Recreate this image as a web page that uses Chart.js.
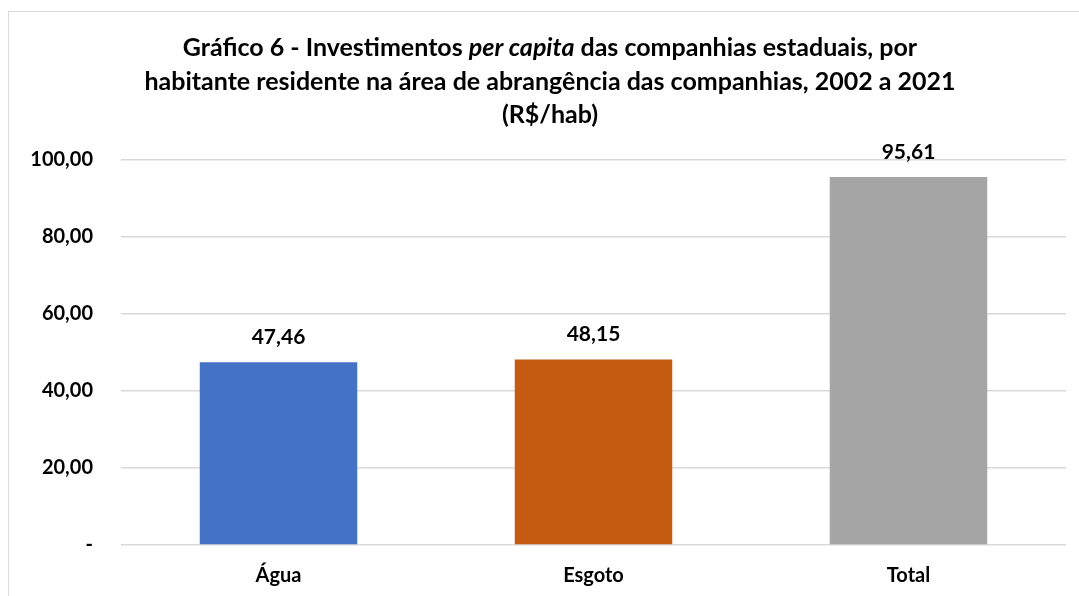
<!DOCTYPE html>
<html>
<head>
<meta charset="utf-8">
<script src="https://cdn.jsdelivr.net/npm/chart.js@4/dist/chart.umd.min.js"></script>
<style>
  html, body { margin: 0; padding: 0; background: #fff; }
  #wrap { width: 1079px; height: 596px; position: relative; }
</style>
</head>
<body>
<div id="wrap"><canvas id="barChart"></canvas></div>
<script>
// dados do gráfico
var categorias = ['Água', 'Esgoto', 'Total'];
var valores = [47.46, 48.15, 95.61];
var cores = ['#4472C4', '#C55A11', '#A5A5A5'];
var ticksY = [0, 20, 40, 60, 80, 100];

var fonte = 'Lato, "Open Sans", sans-serif';

function formatar(v) {
    if (v === 0) return '-';
    return v.toFixed(2).replace('.', ',');
}

// moldura + título (com "per capita" em itálico)
var tituloPlugin = {
    id: 'titulo',
    beforeDraw: function (chart) {
        var ctx = chart.ctx;
        ctx.save();
        ctx.fillStyle = '#fff';
        ctx.fillRect(0, 0, chart.width, chart.height);
        ctx.strokeStyle = '#d9d9d9';
        ctx.lineWidth = 1;
        ctx.strokeRect(8.5, 11.5, 1200, 700);
        ctx.restore();
    },
    afterDraw: function (chart) {
        var ctx = chart.ctx;
        var cx = 550;
        ctx.save();
        ctx.fillStyle = '#000';
        ctx.textBaseline = 'middle';
        var b = 'bold 25px ' + fonte;
        var bi = 'italic bold 25px ' + fonte;
        var partes = [
            [b, 'Gráfico 6 - Investimentos '],
            [bi, 'per capita'],
            [b, ' das companhias estaduais, por']
        ];
        var total = 0;
        partes.forEach(function (p) { ctx.font = p[0]; total += ctx.measureText(p[1]).width; });
        var x = cx - total / 2;
        ctx.textAlign = 'left';
        partes.forEach(function (p) {
            ctx.font = p[0];
            ctx.fillText(p[1], x, 48);
            x += ctx.measureText(p[1]).width;
        });
        ctx.font = b;
        ctx.textAlign = 'center';
        ctx.fillText('habitante residente na área de abrangência das companhias, 2002 a 2021', cx, 82);
        ctx.fillText('(R$/hab)', cx, 115);
        ctx.restore();
    }
};

// rótulos de dados acima das barras
var rotulosPlugin = {
    id: 'rotulos',
    afterDatasetsDraw: function (chart) {
        var ctx = chart.ctx;
        var meta = chart.getDatasetMeta(0);
        ctx.save();
        ctx.font = 'bold 21px ' + fonte;
        ctx.fillStyle = '#000';
        ctx.textAlign = 'center';
        ctx.textBaseline = 'middle';
        meta.data.forEach(function (bar, i) {
            ctx.fillText(formatar(valores[i]), bar.x, bar.y - 25);
        });
        ctx.restore();
    }
};

document.addEventListener('DOMContentLoaded', function () {
    var ctx = document.getElementById('barChart').getContext('2d');
    new Chart(ctx, {
        type: 'bar',
        data: {
            labels: categorias,
            datasets: [{
                data: valores,
                backgroundColor: cores,
                borderWidth: 0,
                barPercentage: 0.5,
                categoryPercentage: 1
            }]
        },
        options: {
            responsive: true,
            maintainAspectRatio: false,
            animation: false,
            layout: { padding: { top: 160, right: 13, left: 0, bottom: 0 } },
            plugins: {
                legend: { display: false },
                title: { display: false },
                tooltip: { enabled: false }
            },
            scales: {
                x: {
                    grid: { display: false },
                    border: { display: false },
                    ticks: {
                        color: '#000',
                        padding: 11,
                        font: { family: fonte, size: 20, weight: 'bold' }
                    },
                    afterFit: function (s) { s.height = 51; }
                },
                y: {
                    min: 0,
                    max: 100,
                    afterBuildTicks: function (s) {
                        s.ticks = ticksY.map(function (v) { return { value: v }; });
                    },
                    grid: { color: '#d9d9d9', lineWidth: 1.5, drawTicks: false },
                    border: { display: false },
                    ticks: {
                        color: '#000',
                        padding: 28,
                        font: { family: fonte, size: 20, weight: 'bold' },
                        callback: function (v) { return formatar(v); }
                    },
                    afterFit: function (s) { s.width = 121; }
                }
            }
        },
        plugins: [tituloPlugin, rotulosPlugin]
    });
});
</script>
</body>
</html>
